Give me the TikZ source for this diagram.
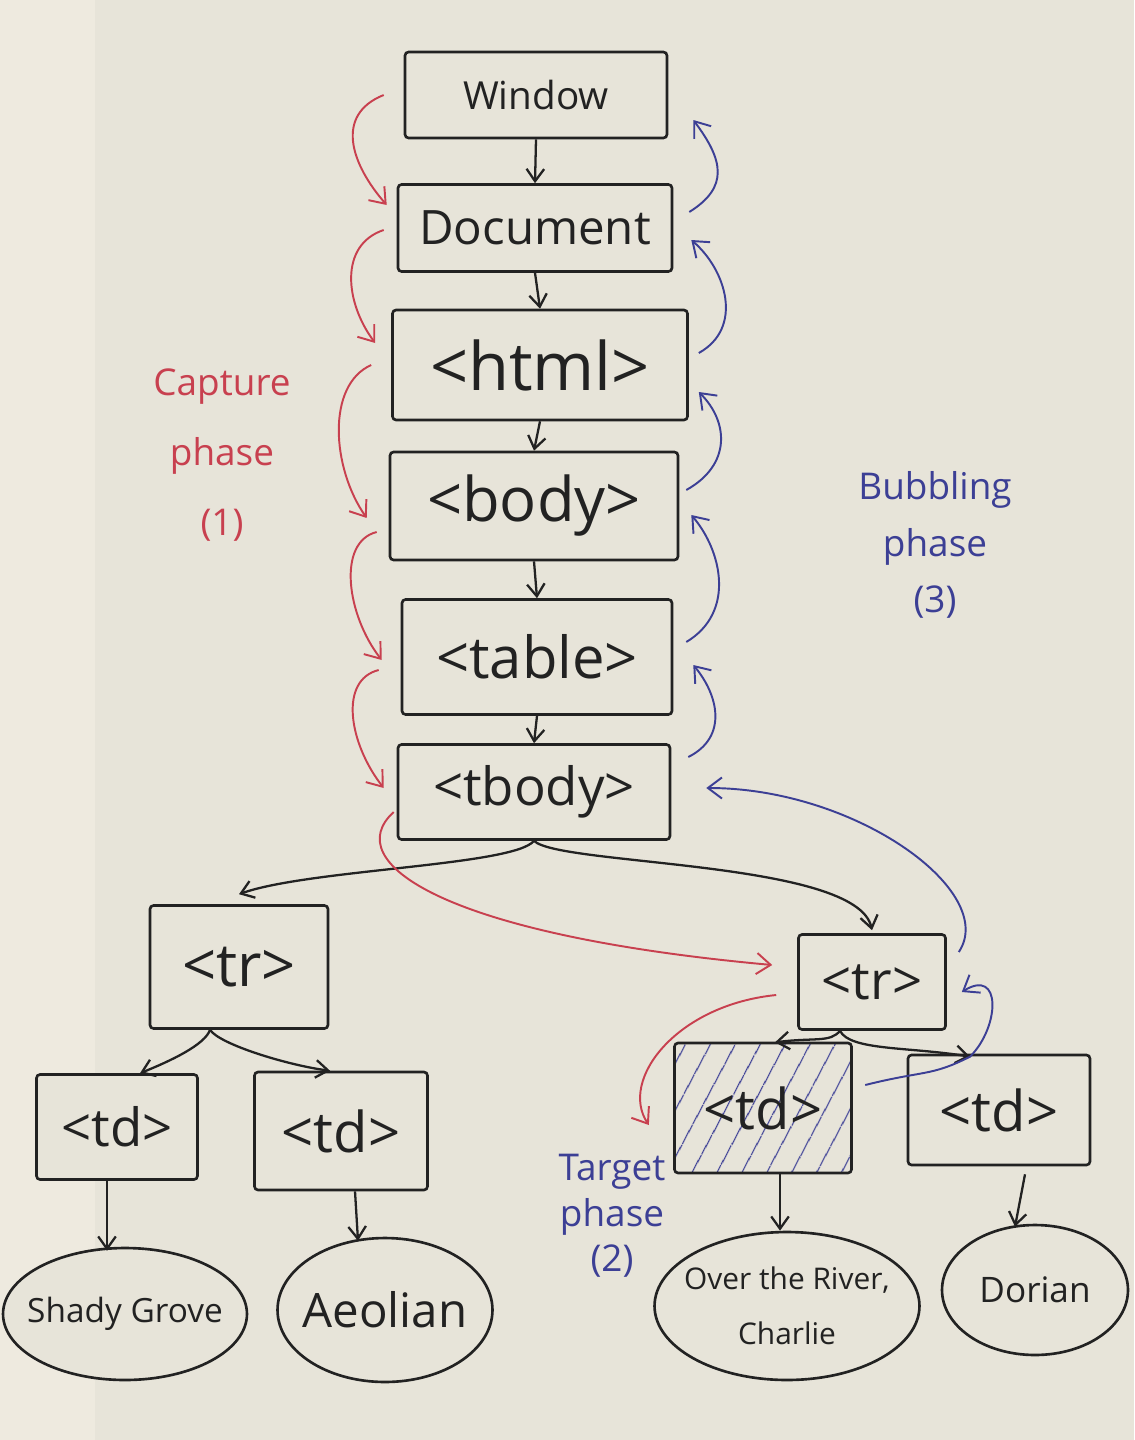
\documentclass[tikz,border=0pt]{standalone}
\usepackage{fontspec}
\setmainfont{Open Sans}
\usetikzlibrary{arrows.meta,calc,shapes.geometric,patterns.meta}
\definecolor{paper}{HTML}{E7E4D9}
\definecolor{leftpage}{HTML}{EEEADF}
\definecolor{ink}{HTML}{222222}
\definecolor{redink}{HTML}{C8404F}
\definecolor{blueink}{HTML}{3C3F95}
\begin{document}
\begin{tikzpicture}[x=0.02cm,y=-0.02cm,
  box/.style={draw=ink,line width=1.5pt,rounded corners=2pt,inner sep=0pt,text=ink},
  leaf/.style={draw=ink,fill=paper,line width=1.5pt,ellipse,inner sep=0pt},
  tree/.style={draw=ink,line width=1.3pt,-{Straight Barb[length=7pt,width=10pt]}},
  capt/.style={draw=redink,line width=1.1pt,-{Straight Barb[length=8pt,width=12pt]}},
  bubb/.style={draw=blueink,line width=1.1pt,-{Straight Barb[length=8pt,width=12pt]}},
  fs/.style={font=\fontsize{#1}{#1}\selectfont}]

\useasboundingbox (0,0) rectangle (1134,1440);
\fill[paper] (0,0) rectangle (1134,1440);
\fill[leftpage] (0,0) rectangle (95,1440);

% --- main chain ---
\node[box,minimum width=5.24cm,minimum height=1.72cm,fs=22] (win) at (536,95) {Window};
\node[box,minimum width=5.48cm,minimum height=1.74cm,fs=27] (doc) at (535,228) {Document};
\node[box,minimum width=5.9cm,minimum height=2.2cm,fs=38] (html) at (540,365) {<html>};
\node[box,minimum width=5.76cm,minimum height=2.16cm,fs=35] (body) at (534,506) {<body>};
\node[box,minimum width=5.4cm,minimum height=2.3cm,fs=33] (table) at (537,657) {<table>};
\node[box,minimum width=5.44cm,minimum height=1.9cm,fs=30] (tbody) at (534,792) {<tbody>};

% --- rows and cells ---
\node[box,minimum width=3.56cm,minimum height=2.46cm,fs=34] (trL) at (239,967) {<tr>};
\node[box,minimum width=2.94cm,minimum height=1.9cm,fs=30] (trR) at (872,982) {<tr>};
\node[box,fill=paper,minimum width=3.22cm,minimum height=2.1cm,fs=30] (tdA) at (117,1127) {<td>};
\node[box,minimum width=3.46cm,minimum height=2.36cm,fs=32] (tdB) at (341,1131) {<td>};
\node[box,minimum width=3.54cm,minimum height=2.6cm,fs=32,
      pattern={Lines[angle=62,distance=13pt,line width=0.8pt]},pattern color=blueink] (tdC) at (763,1108) {<td>};
\node[box,minimum width=3.64cm,minimum height=2.2cm,fs=32] (tdD) at (999,1110) {<td>};

% --- leaves ---
\node[leaf,minimum width=4.88cm,minimum height=2.64cm,
      label={[fs=19,text=ink]center:Shady Grove}] (sg) at (125,1314) {};
\node[leaf,minimum width=4.3cm,minimum height=2.88cm,
      label={[fs=27,text=ink]center:Aeolian}] (ae) at (385,1310) {};
\node[leaf,minimum width=5.3cm,minimum height=2.96cm,
      label={[font=\fontsize{17}{31}\selectfont,text=ink,align=center]center:{Over the River,\\Charlie}}] (ov) at (787,1306) {};
\node[leaf,minimum width=3.72cm,minimum height=2.6cm,
      label={[fs=20,text=ink]center:Dorian}] (dor) at (1035,1290) {};

% --- phase labels ---
\node[text=redink,font=\fontsize{21}{40}\selectfont,align=center] (capl) at (222,455) {Capture\\phase\\(1)};
\node[text=blueink,font=\fontsize{21}{32}\selectfont,align=center] (bubl) at (935,545) {Bubbling\\phase\\(3)};
\node[text=blueink,font=\fontsize{21}{26}\selectfont,align=center] (tarl) at (612,1216) {Target\\phase\\(2)};

% --- tree connectors (black) ---
\draw[tree] (win.south) -- (doc.north);
\draw[tree] (doc.south) -- (html.north);
\draw[tree] (html.south) -- (body.north);
\draw[tree] (body.south) -- (table.north);
\draw[tree] (table.south) -- (tbody.north);
\draw[tree] (tbody.south) .. controls +(-20,25) and +(70,-25) .. ($(trL.north)+(0,-10)$);
\draw[tree] (tbody.south) .. controls +(25,25) and +(-15,-70) .. ($(trR.north)+(0,-3)$);
\coordinate (trLb) at ($(trL.south)+(-29,0)$);
\draw[tree] (trLb) .. controls +(-5,15) and +(30,-12) .. ($(tdA.north)+(23,0)$);
\draw[tree] (trLb) .. controls +(10,15) and +(-40,-5) .. ($(tdB.north)+(-11,0)$);
\coordinate (trRb) at ($(trR.south)+(-32,0)$);
\coordinate (tdDt) at ($(tdD.north)+(-29,3)$);
\draw[tree] (trRb) .. controls +(-10,12) and +(40,-5) .. ($(tdC.north)+(12,0)$);
\draw[tree] (trRb) .. controls +(10,20) and +(-60,-10) .. (tdDt);
\draw[tree] ($(tdA.south)+(-10,0)$) -- ($(sg.north)+(-18,4)$);
\draw[tree] ($(tdB.south)+(14,0)$) -- ($(ae.north)+(-27,4)$);
\draw[tree] ($(tdC.south)+(17,0)$) -- ($(ov.north)+(-7,0)$);
\draw[tree] ($(tdD.south)+(26,8)$) -- ($(dor.north)+(-20,3)$);

% --- capture phase (red) ---
\draw[capt] ($(win.west)+(-20,0)$) .. controls +(-50,20) and +(-35,-40) .. ($(doc.west)+(-10,-23)$);
\draw[capt] ($(doc.west)+(-13,2)$) .. controls +(-45,15) and +(-30,-40) .. ($(html.west)+(-16,-22)$);
\draw[capt] ($(html.west)+(-20,0)$) .. controls +(-45,20) and +(-35,-50) .. ($(body.west)+(-22,12)$);
\draw[capt] ($(body.west)+(-12,26)$) .. controls +(-40,10) and +(-35,-45) .. ($(table.west)+(-19,3)$);
\draw[capt] ($(table.west)+(-22,13)$) .. controls +(-40,10) and +(-35,-45) .. ($(tbody.west)+(-13,-4)$);
\draw[capt] ($(tbody.west)+(-3,20)$) .. controls +(-55,50) and +(-330,-30) .. ($(trR.west)+(-25,-17)$);
\draw[capt] ($(trR.west)+(-21,13)$) .. controls +(-100,10) and +(-30,-45) .. ($(tdC.west)+(-25,17)$);

% --- bubbling phase (blue) ---
\draw[bubb] ($(doc.east)+(16,-16)$) .. controls +(40,-25) and +(30,40) .. ($(win.east)+(25,25)$);
\draw[bubb] ($(html.east)+(10,-12)$) .. controls +(45,-25) and +(35,30) .. ($(doc.east)+(18,12)$);
\draw[bubb] ($(body.east)+(7,-16)$) .. controls +(45,-25) and +(30,30) .. ($(html.east)+(10,27)$);
\draw[bubb] ($(table.east)+(13,-15)$) .. controls +(50,-30) and +(30,35) .. ($(body.east)+(12,9)$);
\draw[bubb] ($(tbody.east)+(17,-35)$) .. controls +(40,-20) and +(25,30) .. ($(table.east)+(20,8)$);
\draw[bubb] ($(trR.east)+(12,-30)$) .. controls +(40,-60) and +(150,0) .. ($(tbody.east)+(35,-4)$);
\draw[bubb] ($(tdC.east)+(13,-23)$) .. controls +(60,-15) and +(-40,20) .. (tdDt)
           .. controls +(30,-30) and +(40,-25) .. ($(trR.east)+(15,10)$);
\end{tikzpicture}
\end{document}
